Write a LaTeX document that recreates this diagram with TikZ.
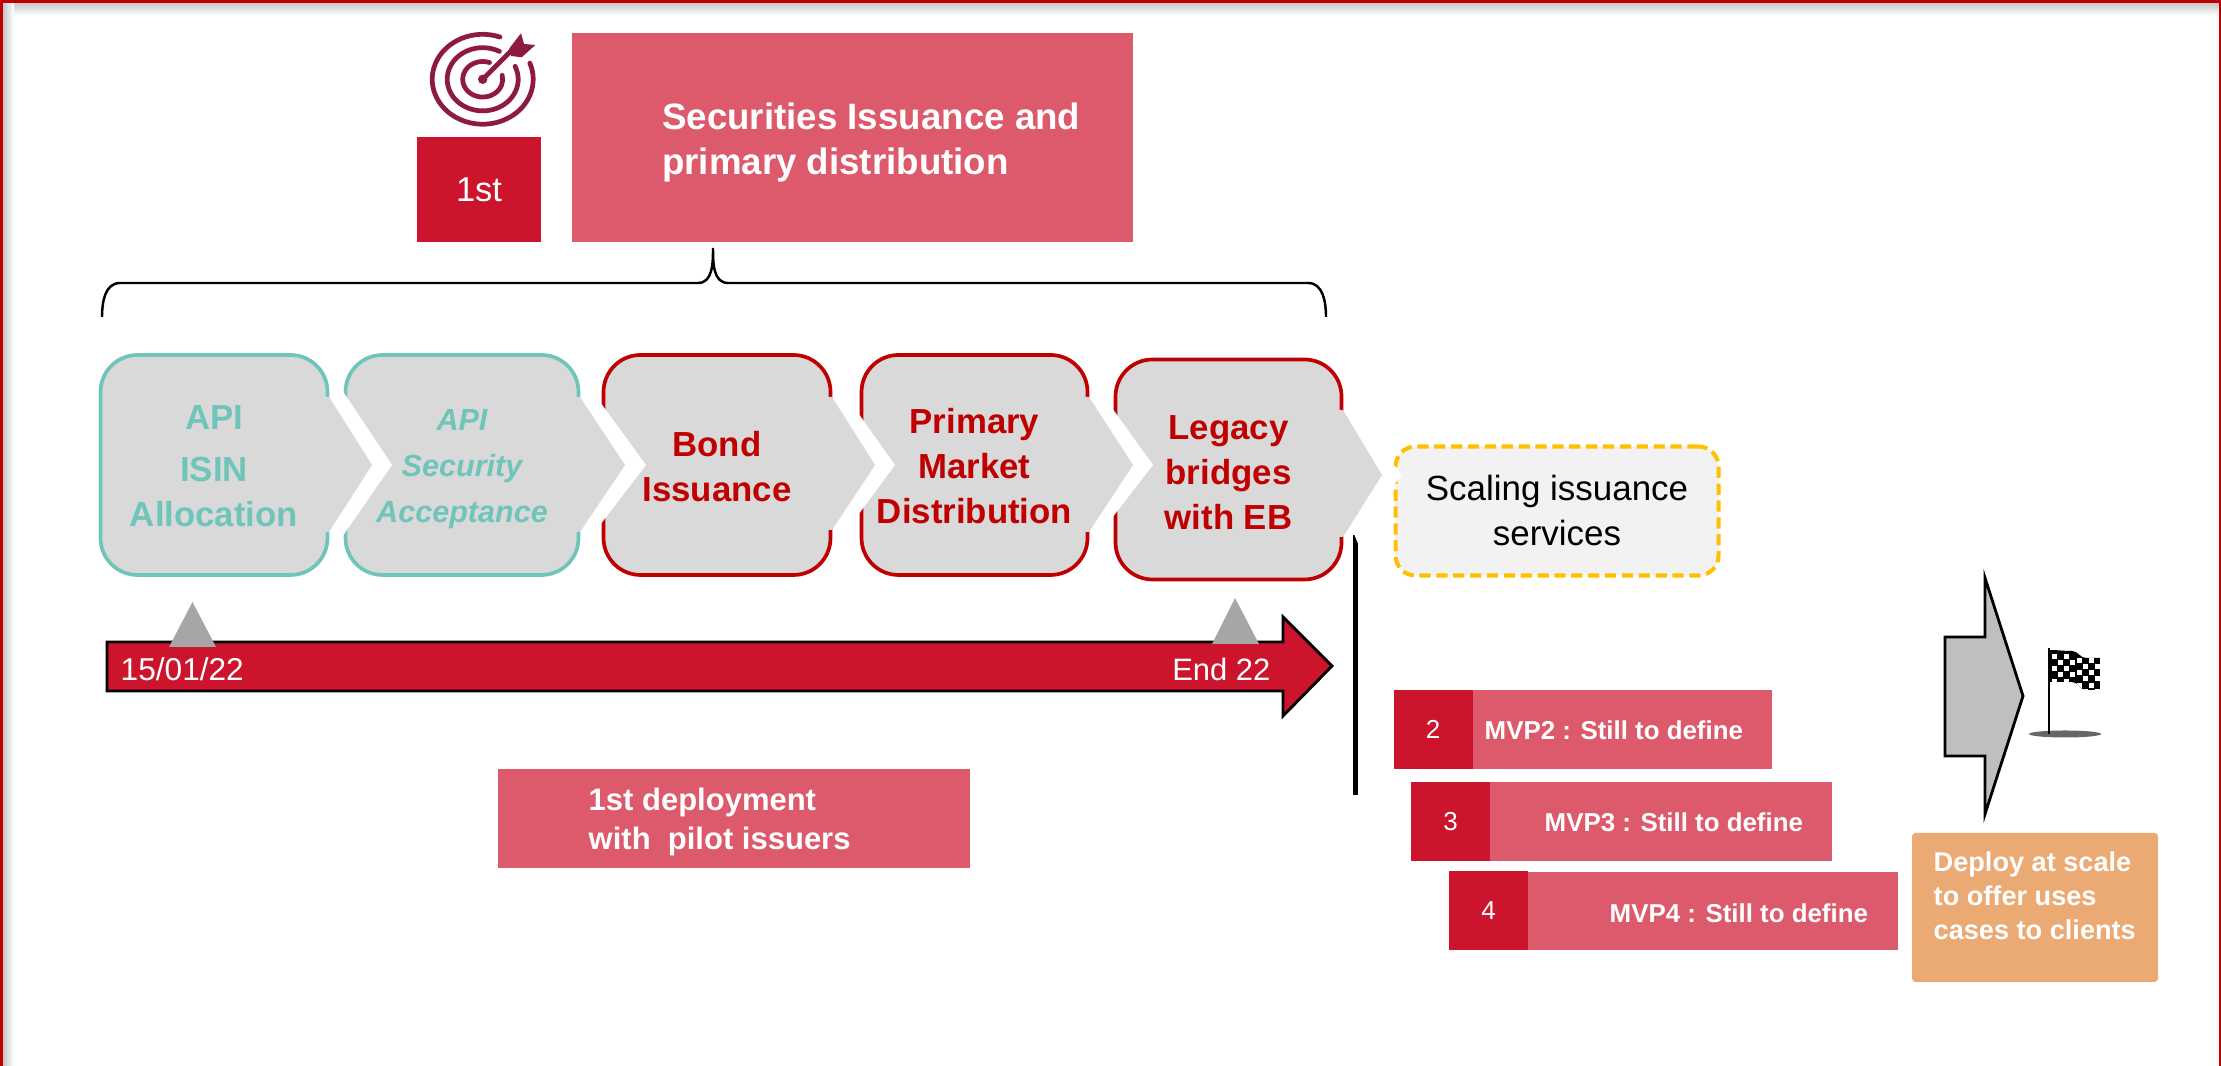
\documentclass[tikz,border=0pt]{standalone}
\usepackage{fontspec}
\setmainfont{Liberation Sans}
\definecolor{frameRed}{HTML}{C00000}
\definecolor{boxRed}{HTML}{CC142D}
\definecolor{softRed}{HTML}{DC5A6C}
\definecolor{stepTeal}{HTML}{70C5BB}
\definecolor{stepGray}{HTML}{D9D9D9}
\definecolor{iconRed}{HTML}{8E1B3E}
\definecolor{deployOrange}{HTML}{EBA974}
\definecolor{scaleYellow}{HTML}{FFC000}

\begin{document}
\begin{tikzpicture}
	\useasboundingbox (0,0) rectangle (22.21,10.66);

	\tikzstyle{stepBox}=[draw,fill=stepGray,line width=1.05pt,rounded corners=0.37cm,inner sep=0,minimum height=2.2cm]
	\tikzstyle{tealStep}=[stepBox,draw=stepTeal]
	\tikzstyle{redStep}=[stepBox,draw=frameRed]
	\tikzstyle{stepText}=[inner sep=0,align=center,text=frameRed,font=\fontsize{9.9}{12.8}\selectfont\bfseries]
	\tikzstyle{softBox}=[fill=softRed,inner sep=0]
	\tikzstyle{numBox}=[fill=boxRed,text=white,inner sep=0,minimum height=0.79cm,minimum width=0.79cm,font=\fontsize{7.4}{9}\selectfont]
	\tikzstyle{mvpText}=[anchor=west,inner sep=0,text=white,font=\fontsize{7.36}{9}\selectfont\bfseries]
	\tikzstyle{whiteText}=[anchor=west,inner sep=0,text=white,align=left]
	\tikzstyle{dateMark}=[fill=black!35]

	% page frame
	\shade[top color=black!22,bottom color=white] (0,10.63) rectangle (22.19,10.51);
	\shade[left color=black!22,right color=white] (0.03,0) rectangle (0.14,10.63);
	\fill[frameRed] (0,0) rectangle (0.03,10.66);
	\fill[frameRed] (0,10.63) rectangle (22.21,10.66);
	\fill[frameRed] (22.19,0) rectangle (22.21,10.66);

	% target
	\begin{scope}[shift={(4.827,9.867)},iconRed,line width=1.35pt,line cap=round]
		\begin{scope}[yscale=0.89]
			\draw (70:0.505) arc (70:381:0.505);
			\draw (62:0.355) arc (62:384:0.355);
			\draw (70:0.2) arc (70:373:0.2);
		\end{scope}
		\fill (0,0) circle (0.047);
		\draw (0,0) -- (0.29,0.29);
		\fill[line join=round] (0.267,0.31) -- (0.383,0.46) -- (0.413,0.353) -- (0.527,0.343) -- (0.39,0.22) -- (0.283,0.233) -- cycle;
	\end{scope}

	\node[fill=boxRed,text=white,inner sep=0,minimum width=1.24cm,minimum height=1.05cm,font=\fontsize{9.8}{12}\selectfont](firstBox) at (4.79,8.765){1st};
	\node[softBox,minimum width=5.61cm,minimum height=2.09cm](titleBox) at (8.525,9.285){};
	\node[whiteText,font=\fontsize{10.44}{12.8}\selectfont\bfseries](titleText) at (6.615,9.233){Securities Issuance and\\primary distribution};

	% brace
	\coordinate(braceLeft) at (1.02,7.49);
	\coordinate(braceTip) at (7.13,8.18);
	\coordinate(braceRight) at (13.26,7.49);
	\draw[line width=0.7pt] (braceLeft) to[out=90,in=180] (1.2,7.83) -- (6.98,7.83) to[out=0,in=-90] (braceTip) to[out=-90,in=180] (7.28,7.83) -- (13.08,7.83) to[out=0,in=90] (braceRight);

	\node[tealStep,minimum width=2.27cm](isinStep) at (2.14,6.01){};
	\node[tealStep,minimum width=2.33cm](apiStep) at (4.62,6.01){};
	\node[redStep,minimum width=2.27cm](bondStep) at (7.17,6.01){};
	\node[redStep,minimum width=2.26cm](marketStep) at (9.745,6.01){};
	\node[redStep,minimum width=2.26cm](legacyStep) at (12.285,5.965){};

	\node[draw=scaleYellow,fill=black!5,line width=1.15pt,dash pattern=on 3.2pt off 1.6pt,rounded corners=0.2cm,inner sep=0,minimum width=3.23cm,minimum height=1.29cm,align=center,font=\fontsize{9.95}{12.8}\selectfont](scaleBox) at (15.57,5.55){Scaling issuance\\services};

	\coordinate(lineTop) at (13.555,5.31);
	\coordinate(lineBottom) at (13.555,2.71);
	\draw[line width=0.05cm] (lineTop) -- (lineBottom);
	\fill[white] (13.54,5.32) -- (13.59,5.32) -- (13.59,5.2) -- cycle;

	% notches, then tips
	\fill[white] (3.42,6.76) -- (3.92,6.01) -- (3.42,5.29) -- cycle;
	\fill[white] (6.0,6.64) -- (6.46,6.01) -- (6.0,5.41) -- cycle;
	\fill[white] (8.58,6.53) -- (8.95,6.01) -- (8.58,5.51) -- cycle;
	\fill[white] (11.12,6.58) -- (11.53,6.01) -- (11.12,5.48) -- cycle;
	\fill[white] (13.88,6.08) -- (14.02,5.91) -- (13.88,5.74) -- cycle;
	\fill[stepGray] (3.23,6.69) -- (3.29,6.69) -- (3.72,6.01) -- (3.29,5.34) -- (3.23,5.34) -- cycle;
	\fill[stepGray] (5.74,6.69) -- (5.8,6.69) -- (6.25,6.01) -- (5.8,5.34) -- (5.74,5.34) -- cycle;
	\fill[stepGray] (8.26,6.69) -- (8.32,6.69) -- (8.75,6.01) -- (8.32,5.36) -- (8.26,5.36) -- cycle;
	\fill[stepGray] (10.83,6.69) -- (10.89,6.69) -- (11.33,6.01) -- (10.89,5.34) -- (10.83,5.34) -- cycle;
	\fill[stepGray] (13.37,6.56) -- (13.43,6.56) -- (13.82,5.91) -- (13.43,5.29) -- (13.37,5.29) -- cycle;

	\node[stepText,text=stepTeal](isinText) at (2.14,6.0){API\\[2pt]ISIN\\Allocation};
	\node[stepText,text=stepTeal,font=\fontsize{8.7}{13.1}\selectfont\bfseries\itshape](apiText) at (4.62,5.97){API\\Security\\Acceptance};
	\node[stepText](bondText) at (7.17,5.995){Bond\\Issuance};
	\node[stepText](marketText) at (9.745,5.995){Primary\\Market\\Distribution};
	\node[stepText](legacyText) at (12.285,5.93){Legacy\\bridges\\with EB};

	% time line
	\draw[fill=boxRed,line width=0.8pt] (1.07,4.24) -- (12.83,4.24) -- (12.83,4.49) -- (13.32,4.0) -- (12.83,3.5) -- (12.83,3.75) -- (1.07,3.75) -- cycle;
	\fill[dateMark] (1.925,4.64) -- (2.16,4.19) -- (1.69,4.19) -- cycle;
	\fill[dateMark] (12.35,4.68) -- (12.59,4.22) -- (12.12,4.22) -- cycle;
	\node[whiteText,font=\fontsize{9}{11}\selectfont](startDate) at (1.2,3.97){15/01/22};
	\node[whiteText,anchor=east,font=\fontsize{8.8}{11}\selectfont](endDate) at (12.71,3.97){End 22};

	\node[softBox,minimum width=4.72cm,minimum height=0.99cm](pilotBox) at (7.34,2.475){};
	\node[whiteText,font=\fontsize{8.82}{11.1}\selectfont\bfseries](pilotText) at (5.88,2.44){1st deployment\\with\ \ pilot issuers};

	\node[softBox,minimum width=3.785cm,minimum height=0.79cm](mvpTwo) at (15.83,3.365){};
	\node[numBox](numTwo) at (14.33,3.365){2};
	\node[mvpText](mvpTwoText) at (14.84,3.36){MVP2 : Still to define};
	\node[softBox,minimum width=4.21cm,minimum height=0.79cm](mvpThree) at (16.215,2.445){};
	\node[numBox](numThree) at (14.505,2.445){3};
	\node[mvpText](mvpThreeText) at (15.44,2.44){MVP3 : Still to define};
	\node[softBox,minimum width=4.49cm,minimum height=0.785cm](mvpFour) at (16.735,1.55){};
	\node[numBox](numFour) at (14.885,1.55){4};
	\node[mvpText](mvpFourText) at (16.09,1.525){MVP4 : Still to define};

	% finish
	\draw[fill=black!25,line width=0.8pt] (19.45,4.29) -- (19.85,4.29) -- (19.85,4.88) -- (20.23,3.7) -- (19.85,2.52) -- (19.85,3.1) -- (19.45,3.1) -- cycle;
	\fill[black!60] (20.65,3.32) ellipse (0.36 and 0.035);
	\begin{scope}
		\clip (20.49,4.16) to[out=0,in=180] (20.72,4.15) to[out=0,in=180] (20.86,4.08) -- (21,4.08) -- (21,3.76) to[out=180,in=0] (20.86,3.76) to[out=180,in=0] (20.72,3.84) -- (20.49,3.84) -- cycle;
		\fill[black] (20.49,3.7) rectangle (21,4.2);
		\foreach \i in {0,...,7}
			\foreach \j in {0,...,6} {
				\pgfmathparse{int(mod(\i+\j,2))}
				\ifnum\pgfmathresult=0
					\pgfmathsetmacro{\sx}{20.52+0.0615*\i}
					\pgfmathsetmacro{\sy}{4.12-0.0615*\j-(\i>3?0.04:0)}
					\fill[white] (\sx,\sy) rectangle ++(0.05,-0.05);
				\fi
			}
	\end{scope}
	\coordinate(poleTop) at (20.49,4.18);
	\coordinate(poleBottom) at (20.49,3.32);
	\draw[line width=0.025cm] (poleTop) -- (poleBottom);

	\node[fill=deployOrange,rounded corners=1pt,inner sep=0,minimum width=2.46cm,minimum height=1.49cm](deployBox) at (20.35,1.585){};
	\node[whiteText,font=\fontsize{7.72}{9.6}\selectfont\bfseries](deployText) at (19.33,1.7){Deploy at scale\\to offer uses\\cases to clients};
\end{tikzpicture}
\end{document}
